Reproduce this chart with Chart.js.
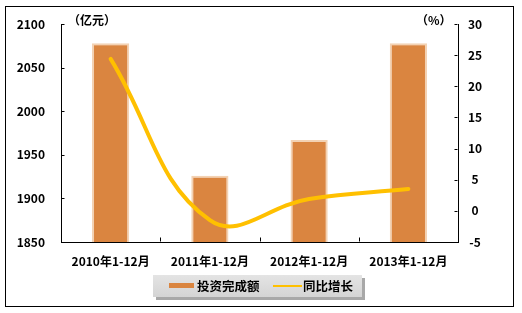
<!DOCTYPE html>
<html>
<head>
<meta charset="utf-8">
<script src="https://cdn.jsdelivr.net/npm/chart.js@4.4.1/dist/chart.umd.min.js"></script>
<style>
html,body{margin:0;padding:0;background:#fff;}
canvas{display:block;}
</style>
</head>
<body>
<canvas id="c" width="522" height="313"></canvas>
<script>
const categories = ['2010年1-12月', '2011年1-12月', '2012年1-12月', '2013年1-12月'];
const investment = [2078, 1926, 1967, 2078];
const growth = [24.4, -1.5, 1.9, 3.5];
const leftTicks = [1850, 1900, 1950, 2000, 2050, 2100];
const rightTicks = [-5, 0, 5, 10, 15, 20, 25, 30];
const leftUnit = '（亿元）';
const rightUnit = '（%）';
const seriesNames = ['投资完成额', '同比增长'];

const BAR_FILL = '#DA8540';
const BAR_EDGE = '#F3D2B3';
const LINE_COLOR = '#FFC000';
const CJK = '"Noto Sans CJK SC", "Liberation Sans", sans-serif';
const NUM = 'Arimo, "Liberation Sans", "DejaVu Sans", sans-serif';

const decor = {
  id: 'decor',
  beforeDraw(chart) {
    const ctx = chart.ctx;
    ctx.save();
    ctx.fillStyle = '#fff';
    ctx.fillRect(0, 0, chart.width, chart.height);
    ctx.strokeStyle = '#000';
    ctx.lineWidth = 1;
    ctx.strokeRect(5.5, 6.5, 508, 300);
    ctx.restore();
  },
  afterDraw(chart) {
    const ctx = chart.ctx;
    const ca = chart.chartArea;
    const sy = chart.scales.y, sy1 = chart.scales.y1, sx = chart.scales.x;
    ctx.save();
    ctx.strokeStyle = '#000';
    ctx.lineWidth = 1;
    ctx.beginPath();
    const L = Math.round(ca.left) + 0.5, R = Math.round(ca.right) - 0.5, B = Math.round(ca.bottom) - 0.5;
    leftTicks.forEach(v => {
      const p = Math.round(sy.getPixelForValue(v)) + 0.5;
      if (v === leftTicks[0]) return;
      ctx.moveTo(L, p); ctx.lineTo(L + 3, p);
    });
    rightTicks.forEach(v => {
      const p = Math.round(sy1.getPixelForValue(v)) + 0.5;
      if (v === rightTicks[0]) return;
      ctx.moveTo(R, p); ctx.lineTo(R - 3, p);
    });
    for (let i = 1; i < categories.length; i++) {
      const px = Math.round((sx.getPixelForValue(i - 1) + sx.getPixelForValue(i)) / 2) + 0.5;
      ctx.moveTo(px, B); ctx.lineTo(px, B - 4);
    }
    ctx.stroke();

    // unit labels
    ctx.fillStyle = '#000';
    ctx.font = 'bold 12px ' + CJK;
    ctx.textBaseline = 'middle';
    ctx.textAlign = 'left';
    ctx.fillText(leftUnit, 68, 20);
    ctx.fillText(rightUnit, 416, 20);

    // legend
    const lx = 153, ly = 275, lw = 209, lh = 22;
    ctx.fillStyle = '#a8a8a8';
    ctx.fillRect(lx + 3, ly + 3, lw, lh);
    const g = ctx.createLinearGradient(0, ly, 0, ly + lh);
    g.addColorStop(0, '#e4e4e4');
    g.addColorStop(1, '#d4d4d4');
    ctx.fillStyle = g;
    ctx.fillRect(lx, ly, lw, lh);
    const cy = ly + 11;
    ctx.fillStyle = BAR_FILL;
    ctx.fillRect(169, cy - 3, 25, 5);
    ctx.strokeStyle = LINE_COLOR;
    ctx.lineWidth = 2;
    ctx.beginPath();
    ctx.moveTo(273, cy); ctx.lineTo(302, cy);
    ctx.stroke();
    ctx.fillStyle = '#000';
    ctx.font = 'bold 12.5px ' + CJK;
    ctx.textBaseline = 'middle';
    ctx.fillText(chart.data.datasets[1].label, 197, cy);
    ctx.fillText(chart.data.datasets[0].label, 303, cy);
    ctx.restore();
  }
};

new Chart(document.getElementById('c'), {
  type: 'bar',
  data: {
    labels: categories,
    datasets: [
      {
        type: 'line',
        label: seriesNames[1],
        data: growth,
        yAxisID: 'y1',
        borderColor: LINE_COLOR,
        borderWidth: 4,
        borderCapStyle: 'round',
        pointRadius: 0,
        tension: 0.42,
        fill: false,
        order: 0
      },
      {
        type: 'bar',
        label: seriesNames[0],
        data: investment,
        yAxisID: 'y',
        backgroundColor: BAR_FILL,
        borderColor: BAR_EDGE,
        borderWidth: 2,
        borderSkipped: false,
        categoryPercentage: 1,
        barPercentage: 0.375,
        order: 1
      }
    ]
  },
  options: {
    responsive: false,
    animation: false,
    devicePixelRatio: 1,
    layout: { padding: { left: 5, right: 8, top: 24, bottom: 41 } },
    plugins: { legend: { display: false }, tooltip: { enabled: false } },
    scales: {
      x: {
        grid: { display: false, drawTicks: false },
        border: { display: true, color: '#000', width: 1 },
        ticks: { color: '#000', padding: 12, font: { family: CJK, size: 12, weight: 'bold' }, maxRotation: 0 },
        afterFit(s) { s.height = 30; }
      },
      y: {
        position: 'left',
        min: leftTicks[0], max: leftTicks[leftTicks.length - 1],
        afterBuildTicks(s) { s.ticks = leftTicks.map(v => ({ value: v })); },
        grid: { display: false, drawTicks: false },
        border: { display: true, color: '#000', width: 1 },
        ticks: { color: '#000', padding: 16, font: { family: CJK, size: 12, weight: 'bold' }, callback: v => String(v) },
        afterFit(s) { s.width = 56; }
      },
      y1: {
        position: 'right',
        min: rightTicks[0], max: rightTicks[rightTicks.length - 1],
        afterBuildTicks(s) { s.ticks = rightTicks.map(v => ({ value: v })); },
        grid: { display: false, drawTicks: false },
        border: { display: true, color: '#000', width: 1 },
        ticks: { color: '#000', padding: 10, crossAlign: 'center', font: { family: CJK, size: 12, weight: 'bold' }, callback: v => String(v) },
        afterFit(s) { s.width = 56; }
      }
    }
  },
  plugins: [decor]
});
</script>
</body>
</html>
